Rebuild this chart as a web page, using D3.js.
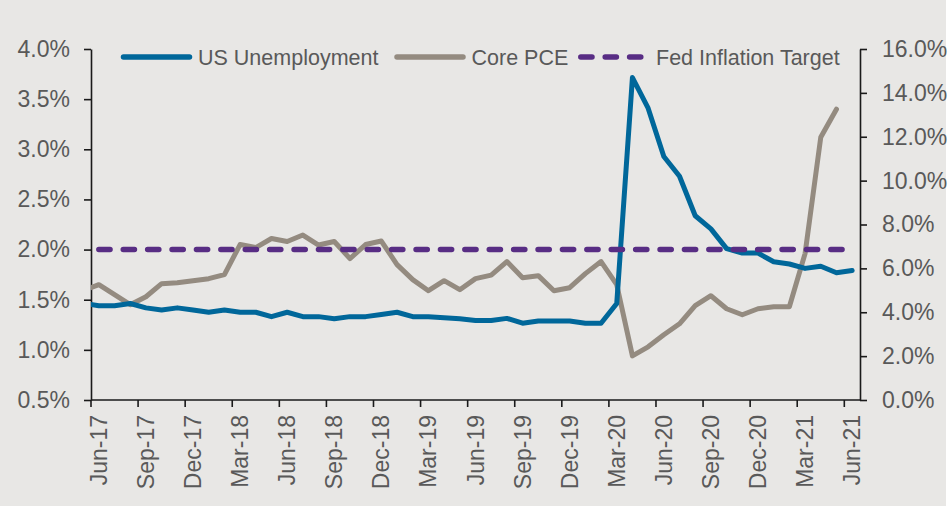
<!DOCTYPE html>
<html>
<head>
<meta charset="utf-8">
<script src="https://cdn.jsdelivr.net/npm/d3@7"></script>
<style>
  body { margin: 0; background: #ffffff; }
  svg text { font-family: "Liberation Sans", Arial, sans-serif; }
</style>
</head>
<body>
<div class="chartDiv"></div>
<script>
// months shown on the axis start at Jun-17; May-17 only feeds the clipped lead-in
var months = ["May-17",
    "Jun-17", "Jul-17", "Aug-17", "Sep-17", "Oct-17", "Nov-17", "Dec-17",
    "Jan-18", "Feb-18", "Mar-18", "Apr-18", "May-18", "Jun-18", "Jul-18", "Aug-18", "Sep-18", "Oct-18", "Nov-18", "Dec-18",
    "Jan-19", "Feb-19", "Mar-19", "Apr-19", "May-19", "Jun-19", "Jul-19", "Aug-19", "Sep-19", "Oct-19", "Nov-19", "Dec-19",
    "Jan-20", "Feb-20", "Mar-20", "Apr-20", "May-20", "Jun-20", "Jul-20", "Aug-20", "Sep-20", "Oct-20", "Nov-20", "Dec-20",
    "Jan-21", "Feb-21", "Mar-21", "Apr-21", "May-21", "Jun-21"];

var unemployment = [4.4,
    4.3, 4.3, 4.4, 4.2, 4.1, 4.2, 4.1,
    4.0, 4.1, 4.0, 4.0, 3.8, 4.0, 3.8, 3.8, 3.7, 3.8, 3.8, 3.9,
    4.0, 3.8, 3.8, 3.75, 3.7, 3.62, 3.62, 3.72, 3.5, 3.6, 3.6, 3.6,
    3.5, 3.5, 4.4, 14.7, 13.3, 11.1, 10.2, 8.4, 7.8, 6.9, 6.7, 6.7,
    6.3, 6.2, 6.0, 6.1, 5.8, 5.9];

var corePce = [1.59,
    1.65, 1.55, 1.45, 1.53, 1.66, 1.67, 1.69,
    1.71, 1.75, 2.05, 2.02, 2.11, 2.08, 2.145, 2.045, 2.08, 1.91, 2.05, 2.085,
    1.85, 1.70, 1.59, 1.69, 1.60, 1.71, 1.745, 1.88, 1.72, 1.74, 1.59, 1.62,
    1.76, 1.88, 1.65, 0.94, 1.03, 1.15, 1.26, 1.44, 1.54, 1.41, 1.35, 1.41,
    1.43, 1.43, 1.96, 3.12, 3.40, null];

var fedTarget = months.map(function(m, i) { return i === 0 ? null : 2.0; });

var leftTicks = [0.5, 1.0, 1.5, 2.0, 2.5, 3.0, 3.5, 4.0];
var rightTicks = [0, 2, 4, 6, 8, 10, 12, 14, 16];
var labelMonths = ["Jun-17", "Sep-17", "Dec-17", "Mar-18", "Jun-18", "Sep-18", "Dec-18",
    "Mar-19", "Jun-19", "Sep-19", "Dec-19", "Mar-20", "Jun-20", "Sep-20", "Dec-20", "Mar-21", "Jun-21"];

var width = 951, height = 509;
var plotLeft = 91, plotRight = 860, plotTop = 49, plotBottom = 400;
var textColor = "#595959";
var axisColor = "#1a1a1a";

var svg = d3.select(".chartDiv").append("svg")
    .attr("width", width)
    .attr("height", height);

svg.append("rect")
    .attr("x", 0)
    .attr("y", 0)
    .attr("width", 946)
    .attr("height", 506)
    .attr("fill", "#e8e7e5");

var step = (plotRight - plotLeft) / (months.length - 1);
var x = d3.scaleBand()
    .domain(months)
    .range([plotLeft - step, plotRight]);

var yLeft = d3.scaleLinear().domain([0.5, 4.0]).range([plotBottom, plotTop]);
var yRight = d3.scaleLinear().domain([0, 16]).range([plotBottom, plotTop]);

var fmt = function(d) { return d3.format(".1f")(d) + "%"; };

svg.append("clipPath")
    .attr("id", "plotClip")
    .append("rect")
    .attr("x", plotLeft)
    .attr("y", 0)
    .attr("width", plotRight - plotLeft)
    .attr("height", plotBottom);

// left axis (Core PCE)
var leftAxis = svg.append("g")
    .attr("transform", "translate(" + plotLeft + ",0)")
    .call(d3.axisLeft(yLeft).tickValues(leftTicks).tickFormat(fmt).tickSize(7).tickSizeOuter(0).tickPadding(14));

// right axis (unemployment)
var rightAxis = svg.append("g")
    .attr("transform", "translate(" + plotRight + ",0)")
    .call(d3.axisRight(yRight).tickValues(rightTicks).tickFormat(fmt).tickSize(7).tickSizeOuter(0).tickPadding(15));

[leftAxis, rightAxis].forEach(function(ax) {
    ax.select(".domain").attr("stroke", axisColor).attr("stroke-width", 1.6);
    ax.selectAll(".tick line").attr("stroke", axisColor).attr("stroke-width", 1.6);
    ax.selectAll(".tick text")
        .attr("fill", textColor)
        .style("font-size", "23px")
        .style("font-family", "'Liberation Sans', Arial, sans-serif");
});

// bottom axis: ticks between categories, labels centred in the category
var bottom = svg.append("g");
bottom.append("line")
    .attr("x1", plotLeft)
    .attr("x2", plotRight)
    .attr("y1", plotBottom)
    .attr("y2", plotBottom)
    .attr("stroke", axisColor)
    .attr("stroke-width", 1.6);

bottom.selectAll(".xtick")
    .data(labelMonths)
    .enter().append("line")
    .attr("class", "xtick")
    .attr("x1", function(d) { return x(d); })
    .attr("x2", function(d) { return x(d); })
    .attr("y1", plotBottom)
    .attr("y2", plotBottom + 7)
    .attr("stroke", axisColor)
    .attr("stroke-width", 1.6);

bottom.selectAll(".xlabel")
    .data(labelMonths)
    .enter().append("text")
    .attr("class", "xlabel")
    .attr("transform", function(d) {
        return "translate(" + (x(d) + x.bandwidth() / 2) + "," + (plotBottom + 15) + ") rotate(-90)";
    })
    .attr("dy", "0.35em")
    .attr("text-anchor", "end")
    .attr("fill", textColor)
    .style("font-size", "23px")
    .text(function(d) { return d; });

var cx = function(i) { return x(months[i]) + x.bandwidth() / 2; };

var plot = svg.append("g").attr("clip-path", "url(#plotClip)");

var pceLine = d3.line()
    .defined(function(d) { return d !== null; })
    .x(function(d, i) { return cx(i); })
    .y(function(d) { return yLeft(d); });

var unempLine = d3.line()
    .defined(function(d) { return d !== null; })
    .x(function(d, i) { return cx(i); })
    .y(function(d) { return yRight(d); });

plot.append("path")
    .datum(corePce)
    .attr("d", pceLine)
    .attr("fill", "none")
    .attr("stroke", "#948b80")
    .attr("stroke-width", 5)
    .attr("stroke-linejoin", "round")
    .attr("stroke-linecap", "round");

plot.append("path")
    .datum(unemployment)
    .attr("d", unempLine)
    .attr("fill", "none")
    .attr("stroke", "#00679a")
    .attr("stroke-width", 5)
    .attr("stroke-linejoin", "round")
    .attr("stroke-linecap", "round");

svg.append("path")
    .datum(fedTarget)
    .attr("d", pceLine)
    .attr("fill", "none")
    .attr("stroke", "#582d84")
    .attr("stroke-width", 5.5)
    .attr("stroke-dasharray", "11.2,13.2")
    .attr("stroke-linecap", "round");

// legend
var legendY = 57;
var legend = [
    { name: "US Unemployment", color: "#00679a", x1: 123.5, x2: 189.5, tx: 198, dash: null },
    { name: "Core PCE", color: "#948b80", x1: 397, x2: 463, tx: 471.5, dash: null },
    { name: "Fed Inflation Target", color: "#582d84", x1: 580.8, x2: 650, tx: 656, dash: "11.2,13.2" }
];

legend.forEach(function(l) {
    svg.append("line")
        .attr("x1", l.x1)
        .attr("x2", l.x2)
        .attr("y1", legendY)
        .attr("y2", legendY)
        .attr("stroke", l.color)
        .attr("stroke-width", 5.5)
        .attr("stroke-linecap", "round")
        .attr("stroke-dasharray", l.dash);

    svg.append("text")
        .attr("x", l.tx)
        .attr("y", legendY)
        .attr("dy", "0.35em")
        .attr("fill", textColor)
        .style("font-size", "21.5px")
        .text(l.name);
});
</script>
</body>
</html>
